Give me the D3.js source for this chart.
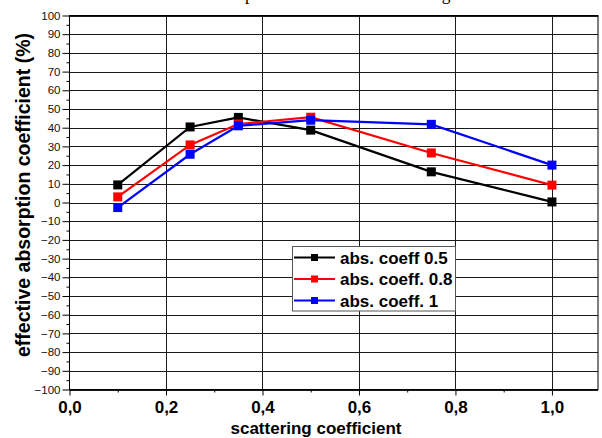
<!DOCTYPE html>
<html><head><meta charset="utf-8">
<script src="https://cdn.jsdelivr.net/npm/d3@7"></script>
<style>html,body{margin:0;padding:0;background:#fff}svg{display:block}</style>
</head><body>
<svg id="c" width="602" height="438"></svg>
<script>
const xValues = [0.1, 0.25, 0.35, 0.5, 0.75, 1.0];
const seriesNames = ["abs. coeff 0.5", "abs. coeff. 0.8", "abs. coeff. 1"];
const seriesColors = ["#000000", "#ff0000", "#0000ff"];
const black05 = [9.4, 40.4, 45.5, 38.7, 16.4, 0.3];
const red08 = [3.0, 30.8, 42.0, 45.6, 26.5, 9.3];
const blue1 = [-2.7, 25.8, 41.0, 44.0, 41.8, 20.0];
const yTicks = d3.range(-100, 101, 10);
const xTicks = [0, 0.2, 0.4, 0.6, 0.8, 1.0];
const xTickLabels = ["0,0", "0,2", "0,4", "0,6", "0,8", "1,0"];
const allSeries = [black05, red08, blue1];

const svg = d3.select("#c");
const SANS = "Liberation Sans, Arial, sans-serif";
const L = 69.5, R = 598, T = 15.5, B = 389.5;
const x = d3.scaleLinear().domain([0, 1.0955]).range([L, R]);
const y = d3.scaleLinear().domain([-100, 100]).range([B, T]);

// title (clipped at top of the picture)
const title = svg.append("text").text("absorption coefficient vs scattering coefficient")
  .attr("font-family", "Liberation Serif, Times New Roman, serif").attr("font-size", 17)
  .attr("y", 0).attr("x", 0).attr("fill", "#000");
{
  const node = title.node();
  const s = node.textContent;
  const ip = s.indexOf("p"), ig = s.indexOf("g");
  const px = node.getStartPositionOfChar(ip).x, gx = node.getStartPositionOfChar(ig).x;
  const fs = 17 * 197 / (gx - px);
  title.attr("font-size", fs);
  const px2 = node.getStartPositionOfChar(ip).x;
  title.attr("x", 245 - px2);
}

// grid
const g = svg.append("g");
g.selectAll("line.hg").data(yTicks).join("line")
  .attr("x1", L).attr("x2", R).attr("y1", d => Math.round(y(d)) + 0.5).attr("y2", d => Math.round(y(d)) + 0.5)
  .attr("stroke", "#1a1a1a").attr("stroke-width", 1);
g.selectAll("line.vg").data(xTicks.slice(1)).join("line")
  .attr("y1", T).attr("y2", B).attr("x1", d => Math.round(x(d)) + 0.5).attr("x2", d => Math.round(x(d)) + 0.5)
  .attr("stroke", "#1a1a1a").attr("stroke-width", 1);

// frame
svg.append("rect").attr("x", L).attr("y", T).attr("width", R - L).attr("height", B - T)
  .attr("fill", "none").attr("stroke", "#000").attr("stroke-width", 1);

// y axis
const yAxis = d3.axisLeft(y).tickValues(yTicks).tickSize(7).tickPadding(2).tickFormat(d3.format("d"));
const ya = svg.append("g").attr("transform", `translate(${L},0)`).call(yAxis);
ya.select(".domain").remove();
ya.selectAll("text").attr("font-family", SANS).attr("font-size", 11.5).attr("fill", "#111");
const yMinor = d3.axisLeft(y).tickValues(d3.range(-95, 100, 10)).tickSize(3).tickFormat("");
svg.append("g").attr("transform", `translate(${L},0)`).call(yMinor).select(".domain").remove();

// x axis
const xAxis = d3.axisBottom(x).tickValues(xTicks).tickSize(6).tickPadding(5).tickFormat((d, i) => xTickLabels[i]);
const xa = svg.append("g").attr("transform", `translate(0,${B})`).call(xAxis);
xa.select(".domain").remove();
xa.selectAll("text").attr("font-family", SANS).attr("font-size", 17).attr("font-weight", "bold").attr("fill", "#000");
const xMinor = d3.axisBottom(x).tickValues([0.1, 0.3, 0.5, 0.7, 0.9]).tickSize(3).tickFormat("");
svg.append("g").attr("transform", `translate(0,${B})`).call(xMinor).select(".domain").remove();

// axis titles
svg.append("text").text("scattering coefficient").attr("x", 316).attr("y", 434)
  .attr("text-anchor", "middle").attr("font-family", SANS)
  .attr("font-size", 17).attr("font-weight", "bold");
svg.append("text").text("effective absorption coefficient (%)")
  .attr("transform", `translate(30,195) rotate(-90)`)
  .attr("text-anchor", "middle").attr("font-family", SANS)
  .attr("font-size", 19.5).attr("font-weight", "bold");

// series
const line = d3.line().x((d, i) => x(xValues[i])).y(d => y(d));
allSeries.forEach((s, k) => {
  svg.append("path").datum(s).attr("d", line).attr("fill", "none")
    .attr("stroke", seriesColors[k]).attr("stroke-width", 2.2);
});
allSeries.forEach((s, k) => {
  svg.append("g").selectAll("rect").data(s).join("rect")
    .attr("x", (d, i) => x(xValues[i]) - 4.5).attr("y", d => y(d) - 4.5)
    .attr("width", 9).attr("height", 9).attr("fill", seriesColors[k]);
});

// legend
const lg = svg.append("g");
lg.append("rect").attr("x", 292.5).attr("y", 246.5).attr("width", 163).attr("height", 64.5)
  .attr("fill", "#fff").attr("stroke", "#555").attr("stroke-width", 1);
seriesNames.forEach((n, k) => {
  const cy = 257.5 + k * 21.5;
  lg.append("line").attr("x1", 294).attr("x2", 335).attr("y1", cy).attr("y2", cy)
    .attr("stroke", seriesColors[k]).attr("stroke-width", 2);
  lg.append("rect").attr("x", 314.5 - 3.5).attr("y", cy - 3.5).attr("width", 7).attr("height", 7).attr("fill", seriesColors[k]);
  lg.append("text").text(n).attr("x", 340).attr("y", cy + 6)
    .attr("font-family", SANS).attr("font-size", 17).attr("font-weight", "bold");
});
</script>
</body></html>
